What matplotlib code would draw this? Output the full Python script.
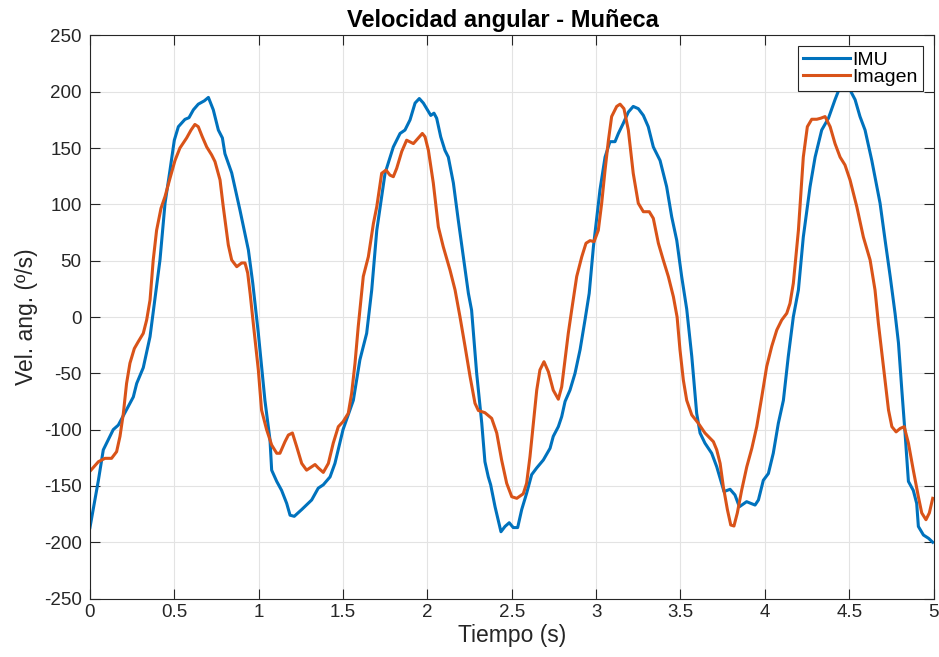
import matplotlib
matplotlib.use("Agg")
import matplotlib.pyplot as plt
from matplotlib.ticker import FuncFormatter

# IMU series (time in s, angular velocity in deg/s)
t_imu = [0.0, 0.05, 0.079, 0.138, 0.168, 0.207, 0.257, 0.277, 0.316, 0.356, 0.38,
         0.415, 0.445, 0.474, 0.5, 0.524, 0.563, 0.587, 0.613, 0.642, 0.678, 0.702,
         0.731, 0.761, 0.785, 0.8, 0.84, 0.889, 0.939, 0.965, 0.998, 1.037, 1.067,
         1.077, 1.107, 1.136, 1.166, 1.186, 1.211, 1.255, 1.314, 1.353, 1.383, 1.423,
         1.452, 1.5, 1.561, 1.6, 1.64, 1.67, 1.70, 1.749, 1.798, 1.838, 1.867, 1.897,
         1.927, 1.952, 1.976, 1.996, 2.02, 2.039, 2.055, 2.079, 2.104, 2.124, 2.154,
         2.183, 2.213, 2.243, 2.262, 2.292, 2.322, 2.341, 2.361, 2.375, 2.401, 2.436,
         2.46, 2.485, 2.509, 2.535, 2.559, 2.588, 2.618, 2.648, 2.687, 2.727, 2.746,
         2.776, 2.796, 2.816, 2.845, 2.875, 2.905, 2.934, 2.959, 2.984, 3.023, 3.053,
         3.082, 3.112, 3.132, 3.161, 3.191, 3.22, 3.25, 3.28, 3.309, 3.339, 3.379,
         3.418, 3.448, 3.478, 3.507, 3.537, 3.567, 3.596, 3.616, 3.645, 3.685, 3.715,
         3.744, 3.758, 3.794, 3.823, 3.849, 3.892, 3.942, 3.962, 3.991, 4.021, 4.05,
         4.08, 4.11, 4.139, 4.169, 4.199, 4.228, 4.268, 4.298, 4.337, 4.377, 4.416,
         4.446, 4.475, 4.505, 4.535, 4.564, 4.594, 4.634, 4.664, 4.683, 4.713, 4.743,
         4.772, 4.792, 4.812, 4.831, 4.851, 4.88, 4.9, 4.91, 4.94, 4.97, 4.995]
v_imu = [-187, -145, -118, -100, -96, -85, -71, -59, -45, -17.5, 10,
         50.6, 101, 130, 157, 169, 175.5, 177, 184, 189, 192, 195,
         184, 166, 159, 145, 128, 95, 59.5, 30, -14.5, -74, -109,
         -136, -146, -154, -165.5, -176, -177, -171, -162.5, -152, -149, -142,
         -130, -100, -74, -38, -14.5, 24, 77, 127.6, 151, 163, 166, 175,
         190, 194, 190, 185, 179, 181, 176.5, 160, 148, 142, 119,
         86, 53.5, 21, 6, -50, -94, -128.5, -142, -149, -168.5, -190.7,
         -186, -182.7, -187, -187, -171, -156.6, -140, -134, -127, -116.6, -106,
         -97.4, -88.5, -75, -65, -50, -29, -2.7, 21, 62.4, 113, 142,
         155.7, 155.7, 163, 172, 182, 187, 185, 179, 169, 151, 139,
         115.7, 89, 68, 36, 7, -35, -85.5, -103, -112, -121, -133,
         -148, -155, -153, -158, -168.5, -164, -167, -162.5, -145, -139, -121,
         -94.4, -74, -35, 0.3, 24, 71, 115.7, 142, 166, 176.5, 193,
         204.5, 206, 201.6, 193, 178, 166, 139, 115.7, 101, 68, 36,
         3, -23, -65, -103, -146, -154, -165.5, -186, -193.6, -196.5, -200]

# Camera-based estimate
t_img = [0.0, 0.05, 0.089, 0.128, 0.158, 0.178, 0.198, 0.217, 0.237, 0.263, 0.286,
         0.316, 0.336, 0.356, 0.375, 0.395, 0.421, 0.445, 0.474, 0.504, 0.533, 0.573,
         0.599, 0.622, 0.642, 0.666, 0.692, 0.721, 0.741, 0.771, 0.79, 0.82, 0.84,
         0.87, 0.899, 0.919, 0.935, 0.95, 0.968, 0.998, 1.017, 1.047, 1.077, 1.107,
         1.126, 1.156, 1.176, 1.2, 1.225, 1.255, 1.284, 1.334, 1.353, 1.383, 1.413,
         1.442, 1.472, 1.5, 1.531, 1.551, 1.571, 1.59, 1.62, 1.65, 1.68, 1.70,
         1.729, 1.755, 1.778, 1.798, 1.818, 1.848, 1.877, 1.917, 1.946, 1.97, 1.986,
         2.006, 2.035, 2.065, 2.094, 2.134, 2.164, 2.193, 2.223, 2.253, 2.282, 2.302,
         2.341, 2.381, 2.411, 2.44, 2.47, 2.5, 2.53, 2.568, 2.588, 2.608, 2.628,
         2.648, 2.667, 2.691, 2.717, 2.746, 2.776, 2.796, 2.816, 2.835, 2.855, 2.885,
         2.915, 2.94, 2.964, 2.988, 3.013, 3.033, 3.053, 3.073, 3.092, 3.122, 3.142,
         3.165, 3.191, 3.22, 3.25, 3.28, 3.315, 3.339, 3.369, 3.398, 3.428, 3.458,
         3.48, 3.497, 3.517, 3.537, 3.567, 3.606, 3.645, 3.695, 3.715, 3.735, 3.754,
         3.778, 3.798, 3.817, 3.837, 3.863, 3.893, 3.923, 3.952, 3.982, 4.011, 4.041,
         4.071, 4.1, 4.13, 4.149, 4.169, 4.199, 4.228, 4.252, 4.278, 4.308, 4.331,
         4.357, 4.387, 4.416, 4.446, 4.475, 4.505, 4.545, 4.584, 4.624, 4.653, 4.673,
         4.703, 4.733, 4.753, 4.778, 4.802, 4.826, 4.851, 4.88, 4.91, 4.93, 4.955,
         4.975, 4.995]
v_img = [-137, -128.5, -125.5, -125.5, -119.6, -106, -85.5, -59, -41, -28, -22,
         -14.5, -2.7, 15, 50.6, 77, 96.5, 107, 123, 139, 150, 159,
         166, 171, 169, 160, 151, 144, 138, 121.7, 98, 64, 50.6,
         44.7, 48, 48, 39, 20, -5.6, -47, -82.6, -100, -113.7, -121,
         -121, -110.7, -104.8, -103, -115, -130, -136, -131, -134, -138, -130,
         -112, -97.4, -93, -85.5, -67.8, -41, -8.6, 36, 53.5, 83, 98,
         127.6, 130.5, 126, 124.6, 132, 147, 157, 154, 159, 163, 160,
         148, 119, 80, 62.4, 41.7, 24, 0.3, -26, -53, -76.6, -83,
         -85, -90, -103, -127, -147.7, -159.6, -161, -157, -147.7, -124, -94.4,
         -65, -47, -39.7, -48.6, -65, -73, -62, -38, -14.5, 6, 36,
         53.5, 65.5, 67.8, 67, 77, 101, 130.5, 157, 178, 187, 189,
         185, 166, 127.6, 101, 93.5, 93.5, 87.6, 65.5, 50.6, 36, 18,
         0, -29, -56, -74, -87, -94.4, -103, -110.7, -118, -130, -150.7,
         -171, -184.7, -185.6, -174, -153.6, -133, -116.6, -97.4, -70.8, -44, -26,
         -11.5, -2.7, 3.3, 12, 30, 77, 142, 169, 175.6, 175.6, 176.5,
         178, 169, 154, 142, 135, 121.7, 98, 71, 50.6, 24, -5.6,
         -44, -82.6, -97.4, -102, -99, -97.4, -112, -136, -159.6, -174, -180,
         -174, -161]

y_ticks = list(range(-250, 251, 50))
x_ticks = [0, 0.5, 1, 1.5, 2, 2.5, 3, 3.5, 4, 4.5, 5]

plt.rcParams["font.family"] = ["Liberation Sans", "DejaVu Sans"]
plt.rcParams["axes.unicode_minus"] = False

fig = plt.figure(figsize=(9.39, 6.57), dpi=100)
ax = fig.add_axes([0.0958, 0.089, 0.8984, 0.857])

ax.plot(t_imu, v_imu, color="#0072BD", linewidth=2.2, label="IMU")
ax.plot(t_img, v_img, color="#D95319", linewidth=2.2, label="Imagen")

ax.set_xlim(0, 5)
ax.set_ylim(-250, 250)
ax.set_xticks(x_ticks)
ax.set_yticks(y_ticks)
ax.xaxis.set_major_formatter(FuncFormatter(lambda v, p: f"{v:g}"))
ax.grid(True, color="#e3e3e3", linewidth=0.8)
ax.set_axisbelow(True)
ax.tick_params(direction="in", length=7, width=0.8, colors="#262626",
               labelsize=13.5, top=True, right=True)
ax.tick_params(axis="y", pad=6)
ax.tick_params(axis="x", pad=4)
for s in ax.spines.values():
    s.set_color("#262626")
    s.set_linewidth(0.8)

ax.set_title("Velocidad angular - Muñeca", fontsize=17, fontweight="bold",
             pad=6, x=0.489)
ax.set_xlabel("Tiempo (s)", fontsize=16.5, color="#262626", labelpad=2)
ax.set_ylabel("Vel. ang. (º/s)", fontsize=16.5, color="#262626", labelpad=4)

leg = ax.legend(loc="upper right", fontsize=14, frameon=True, fancybox=False,
                borderpad=0.25, labelspacing=0.0, handlelength=2.4,
                handletextpad=0.15, borderaxespad=0.55)
leg.get_frame().set_edgecolor("#262626")
leg.get_frame().set_linewidth(0.8)
leg.get_frame().set_alpha(1)

fig.savefig("out.png", dpi=100)
